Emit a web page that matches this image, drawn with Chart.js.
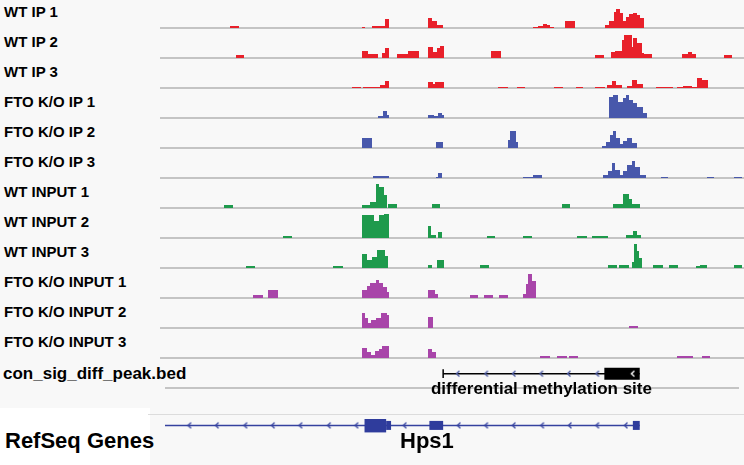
<!DOCTYPE html>
<html><head><meta charset="utf-8">
<script src="https://cdn.jsdelivr.net/npm/chart.js@4.4.0/dist/chart.umd.min.js"></script>
<style>
html,body{margin:0;padding:0;background:#f8f8f8;width:744px;height:465px;overflow:hidden;position:relative;
  font-family:"Liberation Sans",Arial,Helvetica,sans-serif;font-weight:bold;color:#000}
.lbl{position:absolute;white-space:nowrap}
canvas{position:absolute;display:block}
</style></head><body>
<div class="lbl" style="left:0;top:408px;width:150px;height:57px;background:#ffffff"></div>
<div class="lbl" style="left:148px;top:414px;width:596px;height:1px;background:#dcdcdc"></div>
<script>
// ---- window (bp offset from window start) ----
const regionStart = 0;
const regionEnd = 5840;

// ---- track names ----
const trackNames = ["WT IP 1","WT IP 2","WT IP 3","FTO K/O IP 1","FTO K/O IP 2","FTO K/O IP 3",
  "WT INPUT 1","WT INPUT 2","WT INPUT 3","FTO K/O INPUT 1","FTO K/O INPUT 2","FTO K/O INPUT 3"];

// ---- coverage: [start, end, depth] ----
const wtIp1 = [[700,790,2],[2020,2050,1],[2120,2250,2],[2250,2290,9],[2680,2720,10],[2720,2770,7],[2770,2830,3],
  [3730,3780,1],[3780,3830,2],[3830,3870,4],[3870,3900,3],[3900,3940,1],[4050,4150,7],
  [4450,4490,3],[4490,4540,7],[4540,4560,16],[4560,4600,19],[4600,4630,15],[4630,4660,7],[4660,4690,11],
  [4690,4730,14],[4730,4770,15],[4770,4800,13],[4800,4840,10]];
const wtIp2 = [[760,840,3],[2020,2080,7],[2080,2180,4],[2220,2250,5],[2250,2290,10],[2370,2480,4],[2480,2590,7],
  [2680,2730,11],[2730,2770,6],[2770,2800,10],[2800,2840,12],[3310,3410,7],[4350,4440,3],
  [4510,4550,6],[4550,4620,7],[4620,4640,18],[4640,4720,23],[4720,4730,11],[4730,4770,20],[4770,4820,15],
  [4820,4840,5],[4840,4920,4],[5220,5280,4],[5280,5320,6],[5320,5360,4],[5640,5720,3]];
const wtIp3 = [[1920,2010,1],[2030,2200,1],[2200,2250,3],[2250,2290,7],[2680,2730,6],[2730,2750,4],[2750,2840,6],
  [3380,3480,1],[3570,3650,1],[3940,4030,1],[4160,4230,1],[4350,4450,1],[4470,4520,3],[4520,4560,7],
  [4560,4620,3],[4670,4720,2],[4720,4770,8],[4770,4830,4],[4960,5130,1],[5170,5230,1],[5230,5320,2],
  [5320,5370,1],[5370,5420,10],[5420,5480,8]];
const koIp1 = [[2180,2230,2],[2230,2270,7],[2270,2290,3],[2680,2740,3],[2740,2780,2],[2780,2820,5],[2820,2840,3],
  [4490,4530,21],[4530,4580,23],[4580,4630,16],[4630,4660,20],[4660,4690,23],[4690,4730,18],[4730,4770,15],
  [4770,4830,11],[4830,4870,5]];
const koIp2 = [[2020,2120,10],[2760,2830,6],[3480,3500,8],[3500,3560,17],[3560,3580,6],
  [4420,4460,2],[4460,4500,6],[4500,4530,13],[4530,4560,17],[4560,4600,10],[4600,4630,4],[4630,4670,7],
  [4670,4720,10],[4720,4770,5]];
const koIp3 = [[2130,2290,2],[2760,2780,1],[2780,2820,5],[3630,3730,1],[3730,3820,3],
  [4430,4480,3],[4480,4520,7],[4520,4550,15],[4550,4600,8],[4600,4630,3],[4630,4670,7],[4670,4720,13],
  [4720,4750,17],[4750,4800,11],[4800,4860,3],[5010,5080,1],[5470,5540,1],[5740,5820,1]];
const wtInput1 = [[640,730,3],[2020,2100,3],[2100,2160,6],[2160,2190,24],[2190,2240,21],[2240,2270,13],
  [2280,2370,4],[2720,2800,4],[4020,4100,4],[4530,4630,4],[4630,4690,14],[4690,4720,9],[4720,4800,4]];
const wtInput2 = [[1230,1320,2],[2020,2140,23],[2140,2190,17],[2190,2240,23],[2240,2290,24],[2680,2710,12],
  [2710,2760,3],[2780,2820,6],[3270,3350,2],[3630,3720,2],[4170,4270,2],[4320,4480,2],[4660,4730,3],
  [4730,4770,7],[4770,4810,3]];
const wtInput3 = [[860,950,2],[1730,1830,2],[2020,2070,14],[2070,2120,8],[2120,2170,11],[2170,2250,18],
  [2250,2280,12],[2680,2720,3],[2770,2840,8],[3200,3290,3],[4480,4570,3],[4590,4690,3],[4720,4740,6],
  [4740,4770,24],[4770,4790,17],[4790,4820,10],[4930,5030,3],[5090,5180,3],[5360,5400,2],[5400,5470,3],
  [5740,5820,3]];
const koInput1 = [[930,1030,3],[1080,1180,8],[2020,2070,8],[2070,2100,12],[2100,2160,15],[2160,2190,18],
  [2190,2230,15],[2230,2270,11],[2270,2290,6],[2680,2750,8],[2750,2780,4],[3100,3180,3],[3240,3330,3],
  [3390,3480,3],[3630,3660,4],[3660,3680,14],[3680,3720,24],[3720,3760,17]];
const koInput2 = [[2020,2050,15],[2050,2080,10],[2080,2110,5],[2110,2160,8],[2160,2210,10],[2210,2270,15],
  [2270,2290,13],[2680,2730,11],[4690,4780,2]];
const koInput3 = [[2020,2070,10],[2070,2110,6],[2110,2150,3],[2150,2190,7],[2190,2220,9],[2220,2290,12],
  [2680,2720,9],[2720,2760,6],[3800,3900,2],[3970,4070,2],[4090,4180,2],[5170,5330,2],[5420,5500,2]];

// ---- BED feature ----
const bedName = "differential methylation site";
const bedSpan = [2830, 4830];
const bedThick = [4470, 4830];
const bedStrandMarks = [2980, 3270, 3550, 3830, 4110, 4400];
const bedThickMarks = [4760];

// ---- RefSeq gene ----
const geneName = "Hps1";
const geneSpan = [-1000, 4830];
const codingExons = [[2030, 2250]];
const utrExons = [[2250, 2300], [2690, 2830], [4760, 4830]];
const geneStrandMarks = [250, 530, 820, 1100, 1380, 1670, 1950, 2440, 2990, 3270, 3550, 3840, 4120, 4400, 4690];

// ---- styles ----
const trackColors = ["#e8202a","#e8202a","#e8202a","#4858ab","#4858ab","#4858ab",
  "#1e9a4c","#1e9a4c","#1e9a4c","#a845a9","#a845a9","#a845a9"];
const trackData = [wtIp1, wtIp2, wtIp3, koIp1, koIp2, koIp3, wtInput1, wtInput2, wtInput3, koInput1, koInput2, koInput3];
const geneBlue = "#35429f";
const baselineGray = "#c4c4c4";

function addLabel(text, left, top, size, extra){
  const d = document.createElement('div');
  d.className = 'lbl';
  d.textContent = text;
  d.style.left = left + 'px'; d.style.top = top + 'px';
  d.style.fontSize = size + 'px'; d.style.lineHeight = size + 'px';
  if (extra) Object.assign(d.style, extra);
  document.body.appendChild(d);
  return d;
}
function makeCanvas(left, top, w, h){
  const c = document.createElement('canvas');
  c.width = w; c.height = h;
  c.style.left = left + 'px'; c.style.top = top + 'px';
  c.style.width = w + 'px'; c.style.height = h + 'px';
  document.body.appendChild(c);
  return c;
}
function opts(ymin, ymax, reverse){
  return {responsive:false, animation:false, devicePixelRatio:1, events:[],
    layout:{padding:0},
    plugins:{legend:{display:false}, tooltip:{enabled:false}},
    elements:{point:{radius:0}},
    scales:{x:{type:'linear', min:regionStart, max:regionEnd, display:false},
            y:{type:'linear', min:ymin, max:ymax, reverse:!!reverse, display:false}}};
}
function stepPoints(segs){
  const pts = [{x:regionStart, y:0}];
  let prevEnd = null;
  segs.forEach(([s,e,h]) => {
    if (prevEnd !== null && prevEnd < s) pts.push({x:prevEnd, y:0});
    pts.push({x:s, y:h});
    prevEnd = e;
  });
  if (prevEnd !== null) pts.push({x:prevEnd, y:0});
  pts.push({x:regionEnd, y:0});
  return pts;
}
function chevron(color){
  const c = document.createElement('canvas');
  c.width = 8; c.height = 8;
  const g = c.getContext('2d');
  g.strokeStyle = color; g.lineWidth = 1.4;
  g.beginPath(); g.moveTo(5.5, 1.2); g.lineTo(2.5, 4); g.lineTo(5.5, 6.8); g.stroke();
  return c;
}
function hline(a, b, y, color, width, order){
  return {data:[{x:a, y:y},{x:b, y:y}], borderColor:color, borderWidth:width, borderCapStyle:'butt',
          fill:false, pointRadius:0, order:order||0};
}

const TRACK_H = 30;
const DATA_LEFT = 160, DATA_W = 584;

// coverage tracks
trackData.forEach((segs, i) => {
  const top = TRACK_H * i;
  addLabel(trackNames[i], 4, top + 3, 15, {lineHeight:'17px'});
  const c = makeCanvas(DATA_LEFT, top, DATA_W, TRACK_H);
  new Chart(c, {type:'line', data:{datasets:[
    {data:stepPoints(segs), stepped:true, fill:'origin', backgroundColor:trackColors[i],
     borderColor:'rgba(0,0,0,0)', borderWidth:0, pointRadius:0, order:0},
    hline(regionStart, regionEnd, 0, baselineGray, 2, 1)
  ]}, options:opts(-2, 28, false)});
});

// BED track
addLabel("con_sig_diff_peak.bed", 3, 365, 17);
const bedCanvas = makeCanvas(DATA_LEFT, 360, DATA_W, 36);
const bedChart = new Chart(bedCanvas, {type:'line', data:{datasets:[
  hline(regionStart, regionEnd, 32, baselineGray, 2, 5),
  hline(bedSpan[0], bedSpan[1], 12, '#000', 1.5, 4),
  {data:[{x:bedSpan[0], y:6},{x:bedSpan[0], y:18}], borderColor:'#000', borderWidth:1.5, fill:false, pointRadius:0, order:3},
  hline(bedThick[0], bedThick[1], 12, '#000', 12, 2),
  {data:bedStrandMarks.map(x => ({x, y:12})), showLine:false, pointStyle:chevron('#4a58a0'), pointRadius:4, order:1},
  {data:bedThickMarks.map(x => ({x, y:12})), showLine:false, pointStyle:chevron('#ffffff'), pointRadius:4, order:0}
]}, options:opts(0, 36, true)});
const bedMid = bedChart.scales.x.getPixelForValue((bedSpan[0] + bedSpan[1]) / 2);
addLabel(bedName, 0, 380, 17, {left:(DATA_LEFT + bedMid) + 'px', transform:'translateX(-50%)'});

// RefSeq gene track
addLabel("RefSeq Genes", 5, 430, 22);
const geneCanvas = makeCanvas(DATA_LEFT, 414, DATA_W, 24);
const geneDatasets = [hline(geneSpan[0], geneSpan[1], 11, geneBlue, 1.5, 5)];
codingExons.forEach(([a,b]) => geneDatasets.push(hline(a, b, 11, '#2f3c9c', 14, 1)));
utrExons.forEach(([a,b]) => geneDatasets.push(hline(a, b, 11, '#2f3c9c', 9, 2)));
geneDatasets.push({data:geneStrandMarks.map(x => ({x, y:11})), showLine:false, pointStyle:chevron(geneBlue), pointRadius:4, order:3});
new Chart(geneCanvas, {type:'line', data:{datasets:geneDatasets}, options:opts(0, 24, true)});
addLabel(geneName, 400, 430, 22);
</script></body></html>
